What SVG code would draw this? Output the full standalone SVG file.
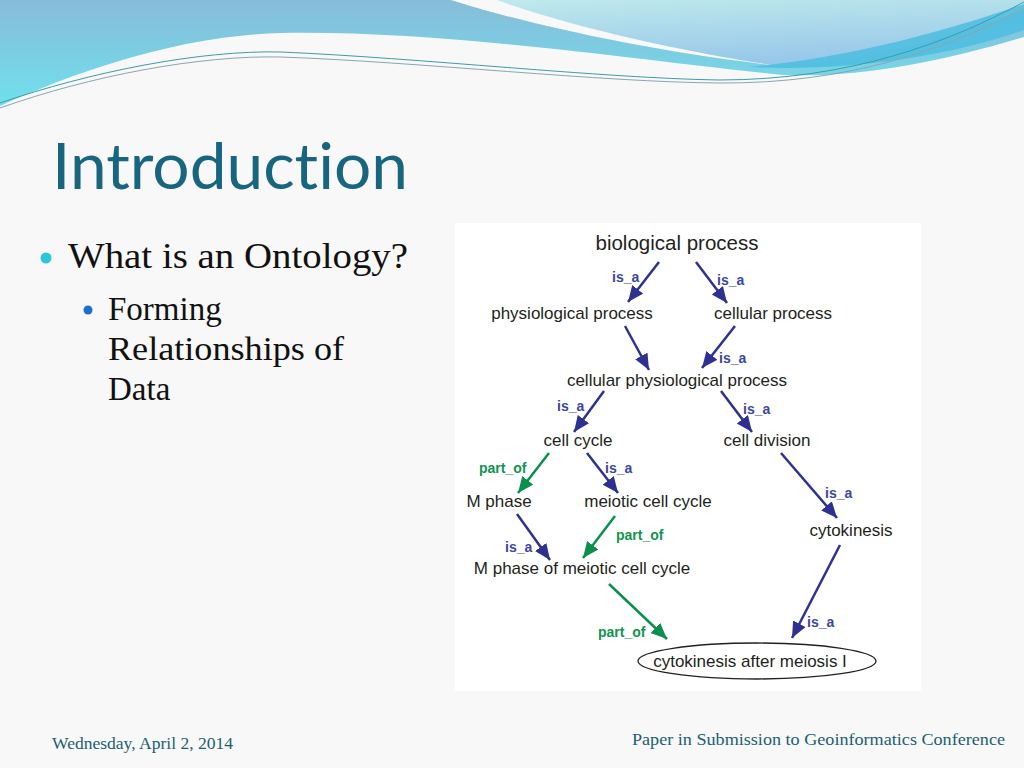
<svg xmlns="http://www.w3.org/2000/svg" width="1024" height="768" viewBox="0 0 1024 768">
<defs>
<linearGradient id="gLeft" x1="0" y1="0" x2="0" y2="1">
<stop offset="0" stop-color="#88bcd9"/>
<stop offset="1" stop-color="#6fe0ec"/>
</linearGradient>
<linearGradient id="gRight" x1="0" y1="0" x2="0.3" y2="1">
<stop offset="0" stop-color="#bfe9ec"/>
<stop offset="1" stop-color="#98c8ea"/>
</linearGradient>
<marker id="ab" markerUnits="userSpaceOnUse" markerWidth="17" markerHeight="15" refX="16" refY="7" orient="auto">
<path d="M0,0 L16,7 L0,14 z" fill="#2e3192"/>
</marker>
<marker id="ag" markerUnits="userSpaceOnUse" markerWidth="17" markerHeight="15" refX="16" refY="7" orient="auto">
<path d="M0,0 L16,7 L0,14 z" fill="#0b8f4d"/>
</marker>
<style>
.node{font-family:"Liberation Sans",Arial,sans-serif;font-size:17px;fill:#231f20;text-anchor:middle}
.big{font-size:20.5px}
.isa{font-family:"Liberation Sans",Arial,sans-serif;font-size:14px;font-weight:bold;fill:#3c46a0}
.partof{font-family:"Liberation Sans",Arial,sans-serif;font-size:14px;font-weight:bold;fill:#129450}
.eb{stroke:#2e3192;stroke-width:2.5;fill:none;marker-end:url(#ab)}
.eg{stroke:#0b8f4d;stroke-width:2.5;fill:none;marker-end:url(#ag)}
.body{font-family:"Liberation Serif","Times New Roman",serif;fill:#111}
.foot{font-family:"Liberation Serif","Times New Roman",serif;font-size:17px;fill:#1c5f73}
</style>
</defs>
<rect x="0" y="0" width="1024" height="768" fill="#f8f8f8"/>
<g id="header">
<path d="M0,0 L451,0 C520,22 640,50 771,65 C860,62 950,35 1024,8 L1024,37 C940,62 860,78 784,75 C650,62 450,30 281,33 C180,36 80,70 0,106 Z" fill="url(#gLeft)"/>
<path d="M497,0 L1024,0 L1024,10 C930,45 850,64 771,65 C690,52 580,30 497,0 Z" fill="url(#gRight)"/>
<path d="M748,67 C850,58 950,30 1024,4 L1024,30 C950,56 850,72 748,67 Z" fill="#4cbde0" opacity="0.85"/>
<path d="M0,103 C90,72 200,50 281,52 C420,58 600,78 719,80 C850,80 950,42 1024,2" fill="none" stroke="#3f9ca8" stroke-width="1"/>
<path d="M0,108 C90,76 200,55 281,57 C420,62 600,82 719,83 C850,84 950,48 1024,8" fill="none" stroke="#8aa6b0" stroke-width="1"/>
</g>
<g id="title">
<text x="52" y="189" font-family="Lato,'Open Sans','Liberation Sans',sans-serif" font-size="64" fill="#17657f" style="font-variant-ligatures:none;font-feature-settings:'liga' 0" textLength="356" lengthAdjust="spacingAndGlyphs">Introduction</text>
</g>
<g id="bullets">
<circle cx="46" cy="258" r="5.5" fill="#2bc7d8"/>
<text class="body" x="68" y="268" font-size="36" textLength="340" lengthAdjust="spacingAndGlyphs">What is an Ontology?</text>
<circle cx="88" cy="310" r="4.5" fill="#1f6fc8"/>
<text class="body" x="108" y="320" font-size="33">Forming</text>
<text class="body" x="108" y="360" font-size="33" textLength="236" lengthAdjust="spacingAndGlyphs">Relationships of</text>
<text class="body" x="108" y="400" font-size="33">Data</text>
</g>
<rect x="455" y="223" width="466" height="468" fill="#ffffff"/>
<g id="connectors">
<line class="eb" x1="659" y1="262" x2="628" y2="302"/>
<line class="eb" x1="696" y1="262" x2="727" y2="303"/>
<line class="eb" x1="625" y1="326" x2="649" y2="370"/>
<line class="eb" x1="735" y1="326" x2="702" y2="368"/>
<line class="eb" x1="604" y1="391" x2="574" y2="432"/>
<line class="eb" x1="721" y1="391" x2="752" y2="432"/>
<line class="eg" x1="549" y1="453" x2="518" y2="493"/>
<line class="eb" x1="587" y1="453" x2="618" y2="493"/>
<line class="eb" x1="781" y1="453" x2="837" y2="518"/>
<line class="eb" x1="517" y1="514" x2="550" y2="560"/>
<line class="eg" x1="615" y1="516" x2="583" y2="558"/>
<line class="eg" x1="609" y1="584" x2="667" y2="639"/>
<line class="eb" x1="840" y1="545" x2="792" y2="638"/>
<text class="isa" x="612" y="282">is_a</text>
<text class="isa" x="717" y="285">is_a</text>
<text class="isa" x="719" y="363">is_a</text>
<text class="isa" x="557" y="411">is_a</text>
<text class="isa" x="743" y="414">is_a</text>
<text class="partof" x="479" y="473">part_of</text>
<text class="isa" x="605" y="473">is_a</text>
<text class="isa" x="825" y="498">is_a</text>
<text class="isa" x="505" y="552">is_a</text>
<text class="partof" x="616" y="540">part_of</text>
<text class="partof" x="598" y="637">part_of</text>
<text class="isa" x="807" y="627">is_a</text>
</g>
<g id="n-biological-process"><text class="node big" x="677" y="250">biological process</text></g>
<g id="n-physiological-process"><text class="node" x="572" y="319">physiological process</text></g>
<g id="n-cellular-process"><text class="node" x="773" y="319">cellular process</text></g>
<g id="n-cellular-physiological-process"><text class="node" x="677" y="386">cellular physiological process</text></g>
<g id="n-cell-cycle"><text class="node" x="578" y="446">cell cycle</text></g>
<g id="n-cell-division"><text class="node" x="767" y="446">cell division</text></g>
<g id="n-m-phase"><text class="node" x="499" y="507">M phase</text></g>
<g id="n-meiotic-cell-cycle"><text class="node" x="648" y="507">meiotic cell cycle</text></g>
<g id="n-cytokinesis"><text class="node" x="851" y="536">cytokinesis</text></g>
<g id="n-m-phase-meiotic"><text class="node" x="582" y="574">M phase of meiotic cell cycle</text></g>
<g id="n-cytokinesis-after-meiosis">
<ellipse cx="757" cy="661" rx="119" ry="18" fill="none" stroke="#231f20" stroke-width="1.3"/>
<text class="node" x="750" y="667">cytokinesis after meiosis I</text>
</g>
<g id="footer">
<text class="foot" x="52" y="749" textLength="181" lengthAdjust="spacingAndGlyphs">Wednesday, April 2, 2014</text>
<text class="foot" x="632" y="745" textLength="373" lengthAdjust="spacingAndGlyphs">Paper in Submission to Geoinformatics Conference</text>
</g>
</svg>
